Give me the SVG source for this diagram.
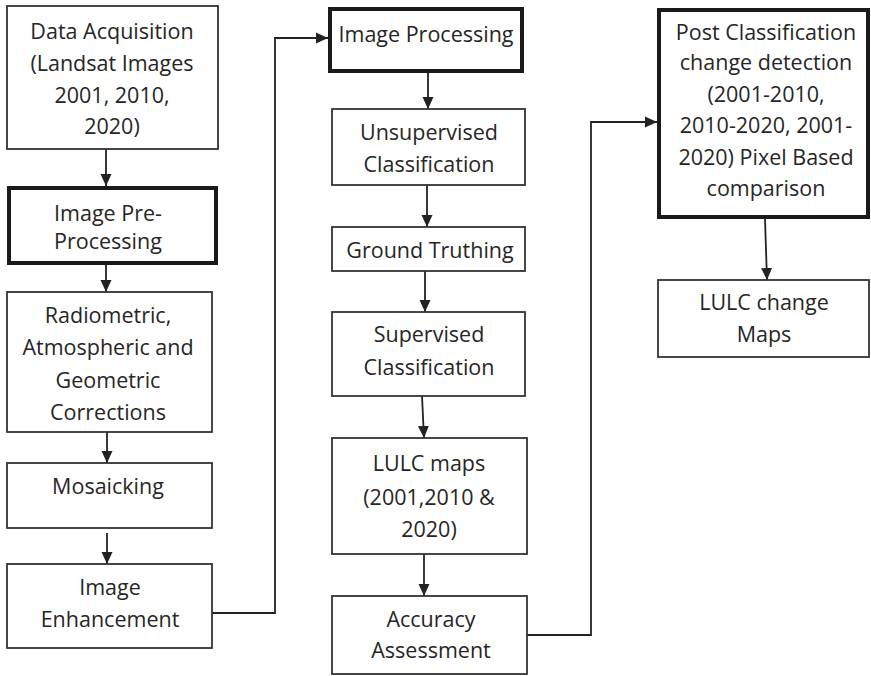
<svg xmlns="http://www.w3.org/2000/svg" width="871" height="676" viewBox="0 0 871 676">
<style>
.box{fill:#fff;stroke:#333;stroke-width:1.8}
.thick{fill:#fff;stroke:#1a1a1a;stroke-width:4}
text{font-family:"Open Sans","Noto Sans",sans-serif;font-size:21.5px;fill:#262626;text-anchor:middle}
.con{fill:none;stroke:#222;stroke-width:1.8}
</style>
<defs>
<marker id="arr" markerUnits="userSpaceOnUse" markerWidth="12" markerHeight="12" viewBox="0 0 12 12" refX="12" refY="6" orient="auto">
<path d="M0,0.5 L12,6 L0,11.5 Z" fill="#222"/>
</marker>
</defs>
<rect width="871" height="676" fill="#fff"/>
<g id="connectors">
<path class="con" d="M106 149 L106 186" marker-end="url(#arr)"/>
<path class="con" d="M106 265 L106 292" marker-end="url(#arr)"/>
<path class="con" d="M107 432 L107 463" marker-end="url(#arr)"/>
<path class="con" d="M107 533 L107 564" marker-end="url(#arr)"/>
<path class="con" d="M212 613 L275 613 L275 38 L328 38" marker-end="url(#arr)"/>
<path class="con" d="M428 73 L428 109" marker-end="url(#arr)"/>
<path class="con" d="M427 185 L427 227" marker-end="url(#arr)"/>
<path class="con" d="M425 271 L425 312" marker-end="url(#arr)"/>
<path class="con" d="M422 396 L424 438" marker-end="url(#arr)"/>
<path class="con" d="M424 554 L424 596" marker-end="url(#arr)"/>
<path class="con" d="M527 635 L591 635 L591 122 L657 122" marker-end="url(#arr)"/>
<path class="con" d="M765 219 L767 280" marker-end="url(#arr)"/>
</g>
<g id="data-acquisition">
<rect class="box" x="7" y="6" width="211" height="143"/>
<text x="112" y="39">Data Acquisition</text>
<text x="112" y="71">(Landsat Images</text>
<text x="112" y="103">2001, 2010,</text>
<text x="112" y="134">2020)</text>
</g>
<g id="image-pre-processing">
<rect class="thick" x="9" y="188" width="207" height="75"/>
<text x="108" y="221">Image Pre-</text>
<text x="108" y="249">Processing</text>
</g>
<g id="corrections">
<rect class="box" x="7" y="292" width="205" height="140"/>
<text x="108" y="323">Radiometric,</text>
<text x="108" y="355">Atmospheric and</text>
<text x="108" y="388">Geometric</text>
<text x="108" y="420">Corrections</text>
</g>
<g id="mosaicking">
<rect class="box" x="7" y="463" width="205" height="65"/>
<text x="108" y="494">Mosaicking</text>
</g>
<g id="image-enhancement">
<rect class="box" x="7" y="564" width="205" height="84"/>
<text x="110" y="595">Image</text>
<text x="110" y="627">Enhancement</text>
</g>
<g id="image-processing">
<rect class="thick" x="330" y="9" width="192" height="62"/>
<text x="426" y="42">Image Processing</text>
</g>
<g id="unsupervised">
<rect class="box" x="332" y="109" width="193" height="76"/>
<text x="429" y="140">Unsupervised</text>
<text x="429" y="172">Classification</text>
</g>
<g id="ground-truthing">
<rect class="box" x="332" y="227" width="193" height="44"/>
<text x="430" y="258">Ground Truthing</text>
</g>
<g id="supervised">
<rect class="box" x="332" y="312" width="193" height="84"/>
<text x="429" y="342">Supervised</text>
<text x="429" y="375">Classification</text>
</g>
<g id="lulc-maps">
<rect class="box" x="332" y="438" width="195" height="116"/>
<text x="429" y="471">LULC maps</text>
<text x="429" y="505">(2001,2010 &amp;</text>
<text x="429" y="537">2020)</text>
</g>
<g id="accuracy-assessment">
<rect class="box" x="332" y="596" width="195" height="78"/>
<text x="431" y="627">Accuracy</text>
<text x="431" y="658">Assessment</text>
</g>
<g id="post-classification">
<rect class="thick" x="659" y="10" width="209" height="207"/>
<text x="766" y="40">Post Classification</text>
<text x="766" y="70">change detection</text>
<text x="766" y="102">(2001-2010,</text>
<text x="766" y="133">2010-2020, 2001-</text>
<text x="766" y="165">2020) Pixel Based</text>
<text x="766" y="196">comparison</text>
</g>
<g id="lulc-change-maps">
<rect class="box" x="658" y="280" width="211" height="77"/>
<text x="764" y="310">LULC change</text>
<text x="764" y="342">Maps</text>
</g>
</svg>
